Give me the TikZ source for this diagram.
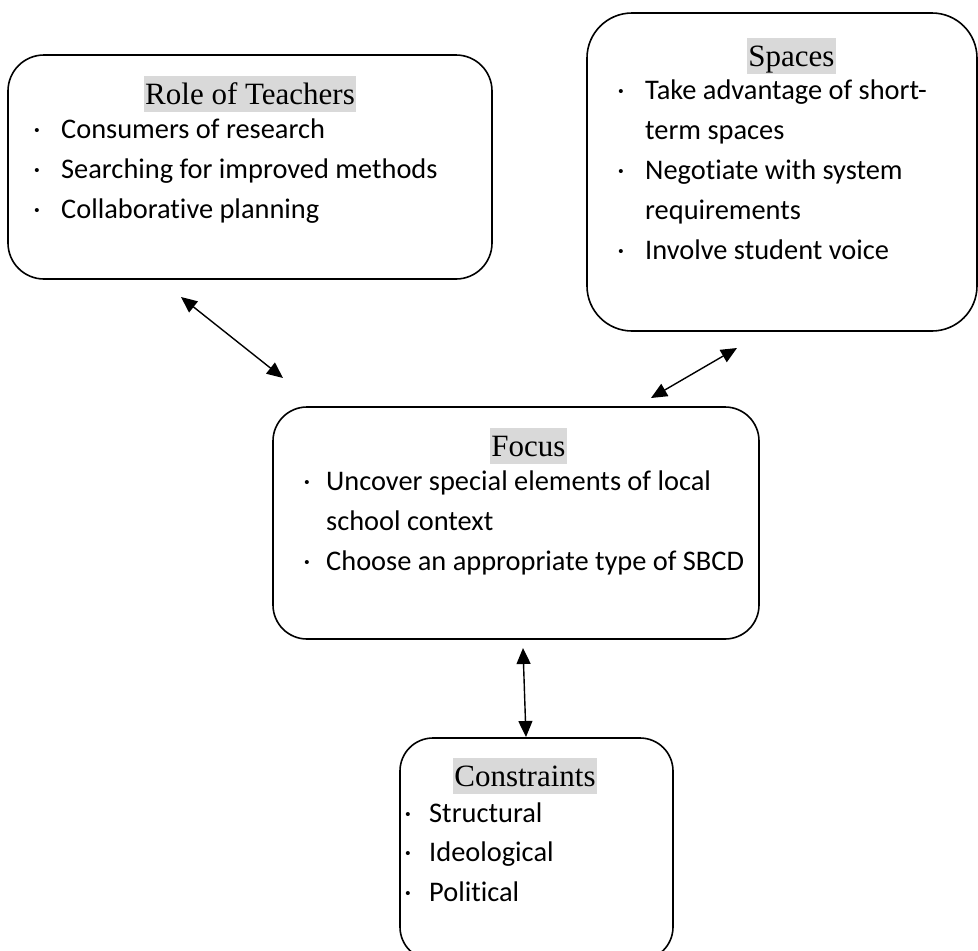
\documentclass[tikz,border=0pt]{standalone}
\usepackage{fontspec}
\setmainfont{Liberation Serif}
\newfontfamily\bodyfont[Ligatures=NoCommon]{Carlito}
\usetikzlibrary{arrows.meta}
\definecolor{hl}{HTML}{D9D9D9}
\tikzset{
  box/.style={draw, line width=1.6pt, rectangle, inner sep=0pt},
  ttl/.style={fill=hl, font=\fontsize{31}{31}\selectfont, text height=28pt, text depth=7pt, inner xsep=1pt, inner ysep=0.5pt, anchor=base},
  itm/.style={font=\bodyfont\fontsize{28.4}{28.4}\selectfont, anchor=base west, inner sep=0pt},
  bul/.style={font=\bodyfont\fontsize{28.4}{28.4}\selectfont, anchor=base, inner sep=0pt},
  link/.style={line width=1.4pt, {Triangle[length=16pt,width=14pt]}-{Triangle[length=16pt,width=14pt]}},
}
\begin{document}
\begin{tikzpicture}[x=1pt,y=-1pt]
\useasboundingbox (0,0) rectangle (978,951);
\clip (0,0) rectangle (978,951);

% boxes
\node[box, rounded corners=36pt, minimum width=484pt, minimum height=224pt] (role) at (250,167) {};
\node[box, rounded corners=45pt, minimum width=390pt, minimum height=318pt] (spaces) at (782,172) {};
\node[box, rounded corners=34pt, minimum width=486pt, minimum height=232pt] (focus) at (516,523) {};
\node[box, rounded corners=33pt, minimum width=273pt, minimum height=222pt] (constr) at (536.5,849) {};

% Role of Teachers
\node[ttl] (roleT) at (250,104) {Role of Teachers};
\node[bul] (rb1) at (37,138) {·};
\node[itm] (r1) at (61,138) {Consumers of research};
\node[bul] (rb2) at (37,178) {·};
\node[itm] (r2) at (61,178) {Searching for improved methods};
\node[bul] (rb3) at (37,218) {·};
\node[itm] (r3) at (61,218) {Collaborative planning};

% Spaces
\node[ttl] (spT) at (791.5,66) {Spaces\ };
\node[bul] (sb1) at (621,99) {·};
\node[itm] (s1) at (645,99) {Take advantage of short-};
\node[itm] (s2) at (645,139) {term spaces};
\node[bul] (sb3) at (621,179) {·};
\node[itm] (s3) at (645,179) {Negotiate with system};
\node[itm] (s4) at (645,219) {requirements};
\node[bul] (sb5) at (621,259) {·};
\node[itm] (s5) at (645,259) {Involve student voice};

% Focus
\node[ttl] (foT) at (528.5,456) {Focus};
\node[bul] (fb1) at (307,490) {·};
\node[itm] (f1) at (326,490) {Uncover special elements of local};
\node[itm] (f2) at (326,530) {school context};
\node[bul] (fb3) at (307,570) {·};
\node[itm] (f3) at (326,570) {Choose an appropriate type of SBCD};

% Constraints
\node[ttl] (coT) at (525,786) {Constraints};
\node[bul] (cb1) at (408,822) {·};
\node[itm] (c1) at (429,822) {Structural};
\node[bul] (cb2) at (408,861) {·};
\node[itm] (c2) at (429,861) {Ideological};
\node[bul] (cb3) at (408,901) {·};
\node[itm] (c3) at (429,901) {Political};

% connectors
\coordinate (a1) at (181,297);
\coordinate (a2) at (283,378);
\coordinate (b1) at (737,348);
\coordinate (b2) at (651,398);
\coordinate (c1) at (523,648);
\coordinate (c2) at (526,737);
\draw[link] (a1) -- (a2);
\draw[link] (b1) -- (b2);
\draw[link] (c1) -- (c2);
\end{tikzpicture}
\end{document}
